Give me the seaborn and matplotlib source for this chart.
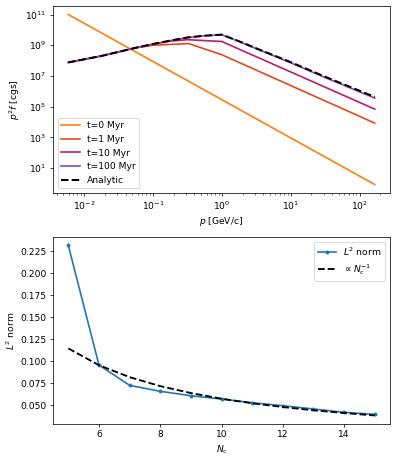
import numpy as np
import pandas as pd
import matplotlib
matplotlib.use("Agg")
import matplotlib.pyplot as plt
import seaborn as sns

# ---- top panel: p^2 f spectra ----
p_analytic = [0.0059, 0.0178, 0.0562, 0.1, 0.178, 0.316, 0.562, 1.0, 1.78, 3.16, 10.0, 31.6, 166.0]
f_analytic = [7.6e7, 2.0e8, 6.8e8, 1.2e9, 2.0e9, 3.2e9, 4.2e9, 4.9e9, 1.8e9, 6.3e8, 7.9e7, 8.9e6, 4.3e5]

p_t0 = [0.0059, 166.0]
f_t0 = [1.0e11, 0.85]

p_t1 = [0.0059, 0.0178, 0.0562, 0.1, 0.33, 1.0, 166.0]
f_t1 = [7.6e7, 2.0e8, 6.8e8, 1.0e9, 1.28e9, 2.4e8, 8.5e3]

p_t10 = [0.0059, 0.0178, 0.0562, 0.1, 0.178, 0.316, 1.0, 166.0]
f_t10 = [7.6e7, 2.0e8, 6.8e8, 1.15e9, 1.85e9, 2.3e9, 1.75e9, 6.9e4]

p_t100 = [0.0059, 0.0178, 0.0562, 0.1, 0.178, 0.316, 0.562, 1.0, 1.78, 3.16, 10.0, 31.6, 166.0]
f_t100 = [7.6e7, 2.0e8, 6.8e8, 1.2e9, 2.0e9, 3.15e9, 4.1e9, 4.8e9, 1.75e9, 6.0e8, 7.2e7, 7.9e6, 3.6e5]

series_labels = ["t=0 Myr", "t=1 Myr", "t=10 Myr", "t=100 Myr"]
series_colors = ["#ff7f0e", "#e8471c", "#c0186a", "#9440b8"]

# ---- bottom panel: convergence ----
n_cells = [5, 6, 7, 8, 9, 10, 11, 12, 13, 14, 15]
l2_norm = [0.2315, 0.0955, 0.0724, 0.0656, 0.0606, 0.0568, 0.0526, 0.0492, 0.0455, 0.0417, 0.0394]
inv_fit = [0.1144, 0.0953, 0.0817, 0.0715, 0.0636, 0.0572, 0.0520, 0.0477, 0.0440, 0.0409, 0.0381]


def main():
    # the reference looks like a larger figure shrunk down, so draw at a low dpi
    dpi = 66
    fig = plt.figure(figsize=(397 / dpi, 460 / dpi), dpi=dpi)
    ax1 = fig.add_axes([0.1335, 0.5804, 0.849, 0.4065])
    ax2 = fig.add_axes([0.1335, 0.0783, 0.849, 0.4065])

    # Top: spectra
    ax1.set_xscale("log")
    ax1.set_yscale("log")
    spectra = [(p_t0, f_t0), (p_t1, f_t1), (p_t10, f_t10), (p_t100, f_t100)]
    for (p, f), lab, col in zip(spectra, series_labels, series_colors):
        sns.lineplot(x=p, y=f, ax=ax1, color=col, label=lab, linewidth=1.8)
    sns.lineplot(x=p_analytic, y=f_analytic, ax=ax1, color="black",
                 linestyle="--", linewidth=2.2, label="Analytic")
    ax1.set_xlabel(r"$p$ [GeV/c]")
    ax1.set_ylabel(r"$p^2 f$ [cgs]")
    ax1.legend(loc="lower left")

    # Bottom: L2 norm vs number of cells
    sns.lineplot(x=n_cells, y=l2_norm, ax=ax2, color="#1f77b4", marker=".",
                 markersize=7, markeredgecolor="#1f77b4", linewidth=1.8,
                 label=r"$L^2$ norm")
    sns.lineplot(x=n_cells, y=inv_fit, ax=ax2, color="black", linestyle="--",
                 linewidth=2.0, label=r"$\propto N_\mathrm{c}^{-1}$")
    ax2.set_xlabel(r"$N_\mathrm{c}$")
    ax2.set_ylabel(r"$L^2$ norm")
    ax2.legend(loc="upper right")

    fig.savefig("out.png", dpi=dpi)
    plt.close(fig)


if __name__ == "__main__":
    main()
